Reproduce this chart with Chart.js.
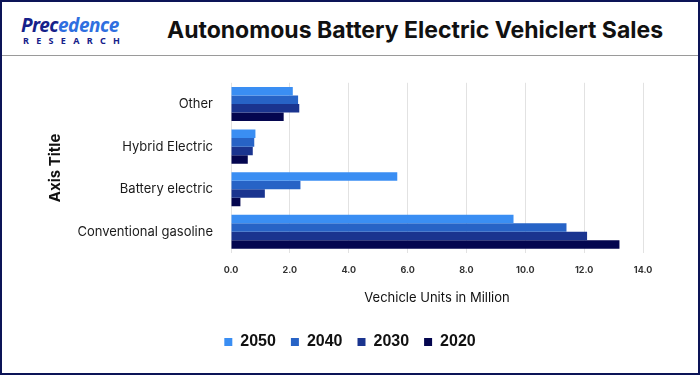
<!DOCTYPE html>
<html>
<head>
<meta charset="utf-8">
<script src="https://cdn.jsdelivr.net/npm/chart.js@4.4.0/dist/chart.umd.min.js"></script>
<style>
  body { margin: 0; background: #fff; }
  #frame { position: relative; width: 700px; height: 375px; box-sizing: border-box; border: 2px solid #0c1457; overflow: hidden; }
  #header { position: absolute; left: 0; top: 0; width: 696px; height: 53px; border-bottom: 1px solid #9a9a9a; }
  #logo { position: absolute; left: 19px; top: 13px; font-family: "Noto Sans", sans-serif; }
  #logo .p1 { font-size: 19px; font-weight: 700; font-style: italic; color: #15218a; letter-spacing: -0.5px; line-height: 21px; }
  #logo .p1 span { color: #2f6fe0; }
  #logo .p2 { font-size: 9px; font-weight: 700; color: #15218a; letter-spacing: 7.3px; line-height: 10px; margin-left: 2px; }
  #title { position: absolute; left: 165px; top: 14px; font-family: Inter, sans-serif; font-weight: 700; font-size: 23px; color: #111; }
  #chartBox { position: absolute; left: 0; top: 55px; width: 696px; height: 316px; }
</style>
</head>
<body>
<div id="frame">
  <div id="header">
    <div id="logo"><div class="p1">Prec<span>edence</span></div><div class="p2">RESEARCH</div></div>
    <div id="title">Autonomous Battery Electric Vehiclert Sales</div>
  </div>
  <div id="chartBox"><canvas id="chart"></canvas></div>
</div>
<script>
// categories, top to bottom
const categories = ['Other', 'Hybrid Electric', 'Battery electric', 'Conventional gasoline'];
const years = ['2050', '2040', '2030', '2020'];

// vehicle units in million
const sales2050 = [2.1, 0.83, 5.65, 9.6];
const sales2040 = [2.28, 0.79, 2.36, 11.4];
const sales2030 = [2.32, 0.74, 1.15, 12.1];
const sales2020 = [1.79, 0.57, 0.32, 13.2];

const xTicks = [0, 2, 4, 6, 8, 10, 12, 14];

const colors = ['#3a8ef3', '#2763c6', '#1a348f', '#04064f'];
const seriesList = [sales2050, sales2040, sales2030, sales2020];

const datasets = years.map((y, i) => ({
  label: y,
  data: seriesList[i],
  backgroundColor: colors[i],
  borderWidth: 0,
  barPercentage: 1.0,
  categoryPercentage: 0.8
}));

new Chart(document.getElementById('chart'), {
  type: 'bar',
  data: { labels: categories, datasets: datasets },
  options: {
    indexAxis: 'y',
    responsive: true,
    maintainAspectRatio: false,
    animation: false,
    // left and right padding kept equal so the legend sits in the middle
    layout: { padding: { top: 25, right: 55, left: 55, bottom: 13 } },
    scales: {
      x: {
        min: 0,
        max: 14,
        afterBuildTicks: (scale) => { scale.ticks = xTicks.map(v => ({ value: v })); },
        afterFit: (scale) => { scale.height = 66; },
        grid: { color: '#e2e2e2', drawTicks: false },
        border: { display: false },
        ticks: {
          padding: 12,
          color: '#333',
          font: { family: 'Inter', size: 9, weight: 'bold' },
          callback: (v) => Number(v).toFixed(1)
        },
        title: {
          display: true,
          text: 'Vechicle Units in Million',
          color: '#111',
          font: { family: 'Inter', size: 13 },
          padding: { top: 8, bottom: 13 }
        }
      },
      y: {
        afterFit: (scale) => { scale.width = 174; },
        grid: { display: false, drawTicks: false },
        border: { display: false },
        ticks: {
          padding: 18,
          color: '#1a1a1a',
          font: { family: 'Inter', size: 13 }
        },
        title: {
          display: true,
          text: 'Axis Title',
          color: '#111',
          font: { family: 'Inter', size: 15, weight: 'bold' },
          padding: { top: -11, bottom: 0 }
        }
      }
    },
    plugins: {
      legend: {
        position: 'bottom',
        labels: {
          boxWidth: 8,
          boxHeight: 8,
          padding: 15,
          color: '#111',
          font: { family: 'Liberation Sans', size: 16, weight: 'bold' }
        }
      },
      tooltip: { enabled: false }
    }
  }
});
</script>
</body>
</html>
